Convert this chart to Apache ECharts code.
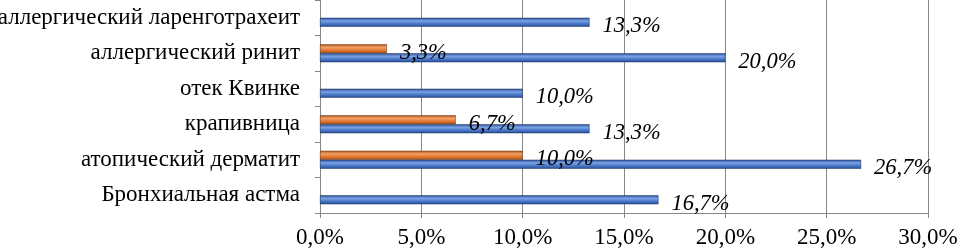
<!DOCTYPE html>
<html>
<head>
<meta charset="utf-8">
<script src="https://cdn.jsdelivr.net/npm/echarts@6/dist/echarts.min.js"></script>
<style>html,body{margin:0;padding:0;background:#fff}#c{width:958px;height:250px}</style>
</head>
<body>
<div id="c"></div>
<script>
const categories = ["Бронхиальная астма", "атопический дерматит", "крапивница", "отек Квинке", "аллергический ринит", "аллергический ларенготрахеит"];
const blueValues = [16.7, 26.7, 13.3, 10.0, 20.0, 13.3];
const orangeValues = [null, 10.0, 6.7, null, 3.3, null];
const xTicks = [0, 5, 10, 15, 20, 25, 30];

const fmt = v => v.toFixed(1).replace('.', ',') + '%';
const serif = '"Liberation Serif", "DejaVu Serif", serif';

function grad(dark, mid, light) {
  return new echarts.graphic.LinearGradient(0, 0, 0, 1, [
    {offset: 0, color: dark},
    {offset: 0.35, color: light},
    {offset: 0.7, color: mid},
    {offset: 1, color: dark}
  ]);
}

const labelCfg = {
  show: true, position: 'right', distance: 13, offset: [0, 4],
  fontFamily: serif, fontStyle: 'italic', fontSize: 22.5, color: '#000',
  formatter: p => fmt(p.value)
};

const chart = echarts.init(document.getElementById('c'));
chart.setOption({
  animation: false,
  grid: {left: 320, right: 30, top: 0, bottom: 37, containLabel: false, outerBoundsMode: 'none'},
  xAxis: {
    type: 'value', min: xTicks[0], max: xTicks[xTicks.length - 1], interval: 5,
    axisLine: {show: true, lineStyle: {color: '#868686'}},
    axisTick: {show: true, length: 5, lineStyle: {color: '#868686'}},
    splitLine: {show: true, lineStyle: {color: '#868686', width: 1}},
    axisLabel: {fontFamily: serif, fontSize: 23, color: '#000', margin: 13, formatter: v => fmt(v)}
  },
  yAxis: {
    type: 'category', data: categories,
    axisLine: {show: true, lineStyle: {color: '#868686'}},
    axisTick: {show: true, length: 5, lineStyle: {color: '#868686'}},
    axisLabel: {fontFamily: serif, fontSize: 23, color: '#000', margin: 20}
  },
  series: [
    {
      name: 'orange', type: 'bar', data: orangeValues, barWidth: 9, barGap: '0%',
      itemStyle: {color: grad('#a9531a', '#e0742c', '#f4a066'), borderColor: '#6b3410', borderWidth: 0.5},
      label: labelCfg
    },
    {
      name: 'blue', type: 'bar', data: blueValues, barWidth: 9, barGap: '0%',
      itemStyle: {color: grad('#2a4d92', '#4472c4', '#7aa2e6'), borderColor: '#1b305c', borderWidth: 0.5},
      label: labelCfg
    }
  ]
});
</script>
</body>
</html>
